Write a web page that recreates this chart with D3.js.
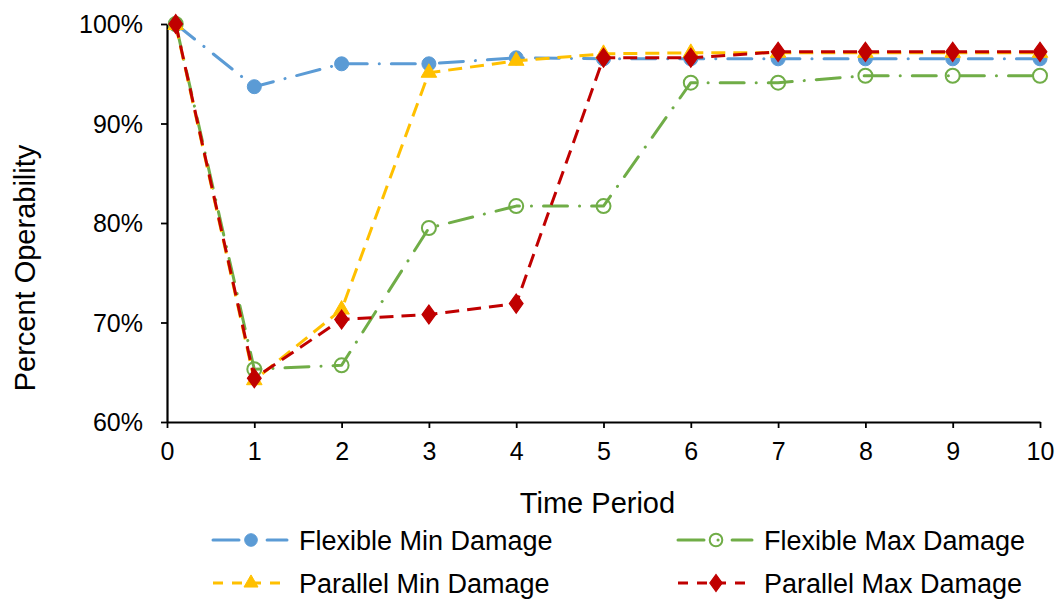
<!DOCTYPE html>
<html><head><meta charset="utf-8">
<script src="https://cdn.jsdelivr.net/npm/d3@7"></script>
<style>
body{margin:0;background:#fff}
text{font-family:"Liberation Sans",Arial,sans-serif;fill:#000}
</style>
</head><body>
<svg id="chart" width="1060" height="601"></svg>
<script>
// ---- data ----
const timePeriods = [0.1, 1, 2, 3, 4, 5, 6, 7, 8, 9, 10];
const flexibleMin = [1.000, 0.937, 0.960, 0.960, 0.966, 0.965, 0.965, 0.965, 0.965, 0.965, 0.965];
const flexibleMax = [1.000, 0.653, 0.657, 0.795, 0.817, 0.817, 0.941, 0.941, 0.948, 0.948, 0.948];
const parallelMin = [0.999, 0.642, 0.713, 0.951, 0.963, 0.970, 0.971, 0.971, 0.971, 0.971, 0.971];
const parallelMax = [1.000, 0.644, 0.703, 0.708, 0.719, 0.966, 0.966, 0.972, 0.972, 0.972, 0.972];
const seriesNames = ["Flexible Min Damage", "Flexible Max Damage", "Parallel Min Damage", "Parallel Max Damage"];
const xTickValues = [0, 1, 2, 3, 4, 5, 6, 7, 8, 9, 10];
const yTickValues = [0.6, 0.7, 0.8, 0.9, 1.0];
const xAxisTitle = "Time Period";
const yAxisTitle = "Percent Operability";

// ---- styles ----
const styles = [
  {color: "#5B9BD5", dash: "24,12,0.1,12", cap: "round", marker: "circle", fill: "#5B9BD5"},
  {color: "#70AD47", dash: "24,12,0.1,12", cap: "round", marker: "circle", fill: "none"},
  {color: "#FFC000", dash: "14,8", cap: "butt", marker: "triangle", fill: "#FFC000"},
  {color: "#C00000", dash: "14,8", cap: "butt", marker: "diamond", fill: "#C00000"}
];
const seriesValues = [flexibleMin, flexibleMax, parallelMin, parallelMax];

const svg = d3.select("#chart");
const x = d3.scaleLinear().domain([0, 10]).range([167, 1040]);
const y = d3.scaleLinear().domain([0.6, 1.0]).range([422, 24]);

// axes
const xAxis = svg.append("g").attr("transform", `translate(0,${y(0.6)})`)
  .call(d3.axisBottom(x).tickValues(xTickValues).tickFormat(d3.format("d")).tickSizeInner(6).tickSizeOuter(0).tickPadding(14));
const yAxis = svg.append("g").attr("transform", `translate(${x(0)},0)`)
  .call(d3.axisLeft(y).tickValues(yTickValues).tickFormat(d3.format(".0%")).tickSizeInner(6).tickSizeOuter(0).tickPadding(18));
[xAxis, yAxis].forEach(a => {
  a.select(".domain").attr("stroke", "#000").attr("stroke-width", 2.2);
  a.selectAll(".tick line").attr("stroke", "#000").attr("stroke-width", 1.8);
  a.selectAll(".tick text").attr("font-size", 25).attr("font-family", "Liberation Sans, Arial, sans-serif").attr("fill", "#000");
});
yAxis.selectAll(".tick text").attr("dy", "0.35em");

// axis titles
svg.append("text").attr("x", (x(0) + x(10)) / 2 - 6).attr("y", 513).attr("text-anchor", "middle")
  .attr("font-size", 29).text(xAxisTitle);
svg.append("text").attr("transform", `translate(35,${(y(0.6) + y(1)) / 2 + 45}) rotate(-90)`).attr("text-anchor", "middle")
  .attr("font-size", 29).text(yAxisTitle);

function drawMarker(g, type, cx, cy, st, scale) {
  scale = scale || 1;
  if (type === "circle") {
    g.append("circle").attr("cx", cx).attr("cy", cy).attr("r", 7 * scale)
      .attr("fill", st.fill).attr("stroke", st.color).attr("stroke-width", st.fill === "none" ? 2 : 1);
  } else {
    const sym = type === "triangle" ? d3.symbolTriangle : d3.symbolDiamond;
    g.append("path").attr("d", d3.symbol().type(sym).size(105 * scale * scale)())
      .attr("transform", `translate(${cx},${cy})` + (type === "diamond" ? " scale(1.25,1)" : ""))
      .attr("fill", st.fill).attr("stroke", st.color).attr("stroke-width", 1);
  }
}

const line = d3.line().x(d => x(d[0])).y(d => y(d[1]));
seriesValues.forEach((vals, i) => {
  const st = styles[i];
  const g = svg.append("g");
  const pts = timePeriods.map((t, k) => [t, vals[k]]);
  g.append("path").datum(pts).attr("d", line).attr("fill", "none")
    .attr("stroke", st.color).attr("stroke-width", 3).attr("stroke-dasharray", st.dash)
    .attr("stroke-linecap", st.cap).attr("stroke-linejoin", "round");
  pts.forEach(p => drawMarker(g, st.marker, x(p[0]), y(p[1]), st));
});

// legend
const legendPos = [[213, 540], [678, 540], [213, 583], [678, 583]];
seriesNames.forEach((name, i) => {
  const st = styles[i];
  const [lx, ly] = legendPos[i];
  const g = svg.append("g");
  g.append("line").attr("x1", lx).attr("x2", lx + 74).attr("y1", ly).attr("y2", ly)
    .attr("stroke", st.color).attr("stroke-width", 3)
    .attr("stroke-dasharray", i < 2 ? "26,14,0.1,14" : "10,9")
    .attr("stroke-linecap", st.cap);
  drawMarker(g, st.marker, lx + 38, ly, st, 0.9);
  g.append("text").attr("x", lx + 86).attr("y", ly + 9.5).attr("font-size", 27).text(name);
});
</script>
</body></html>
